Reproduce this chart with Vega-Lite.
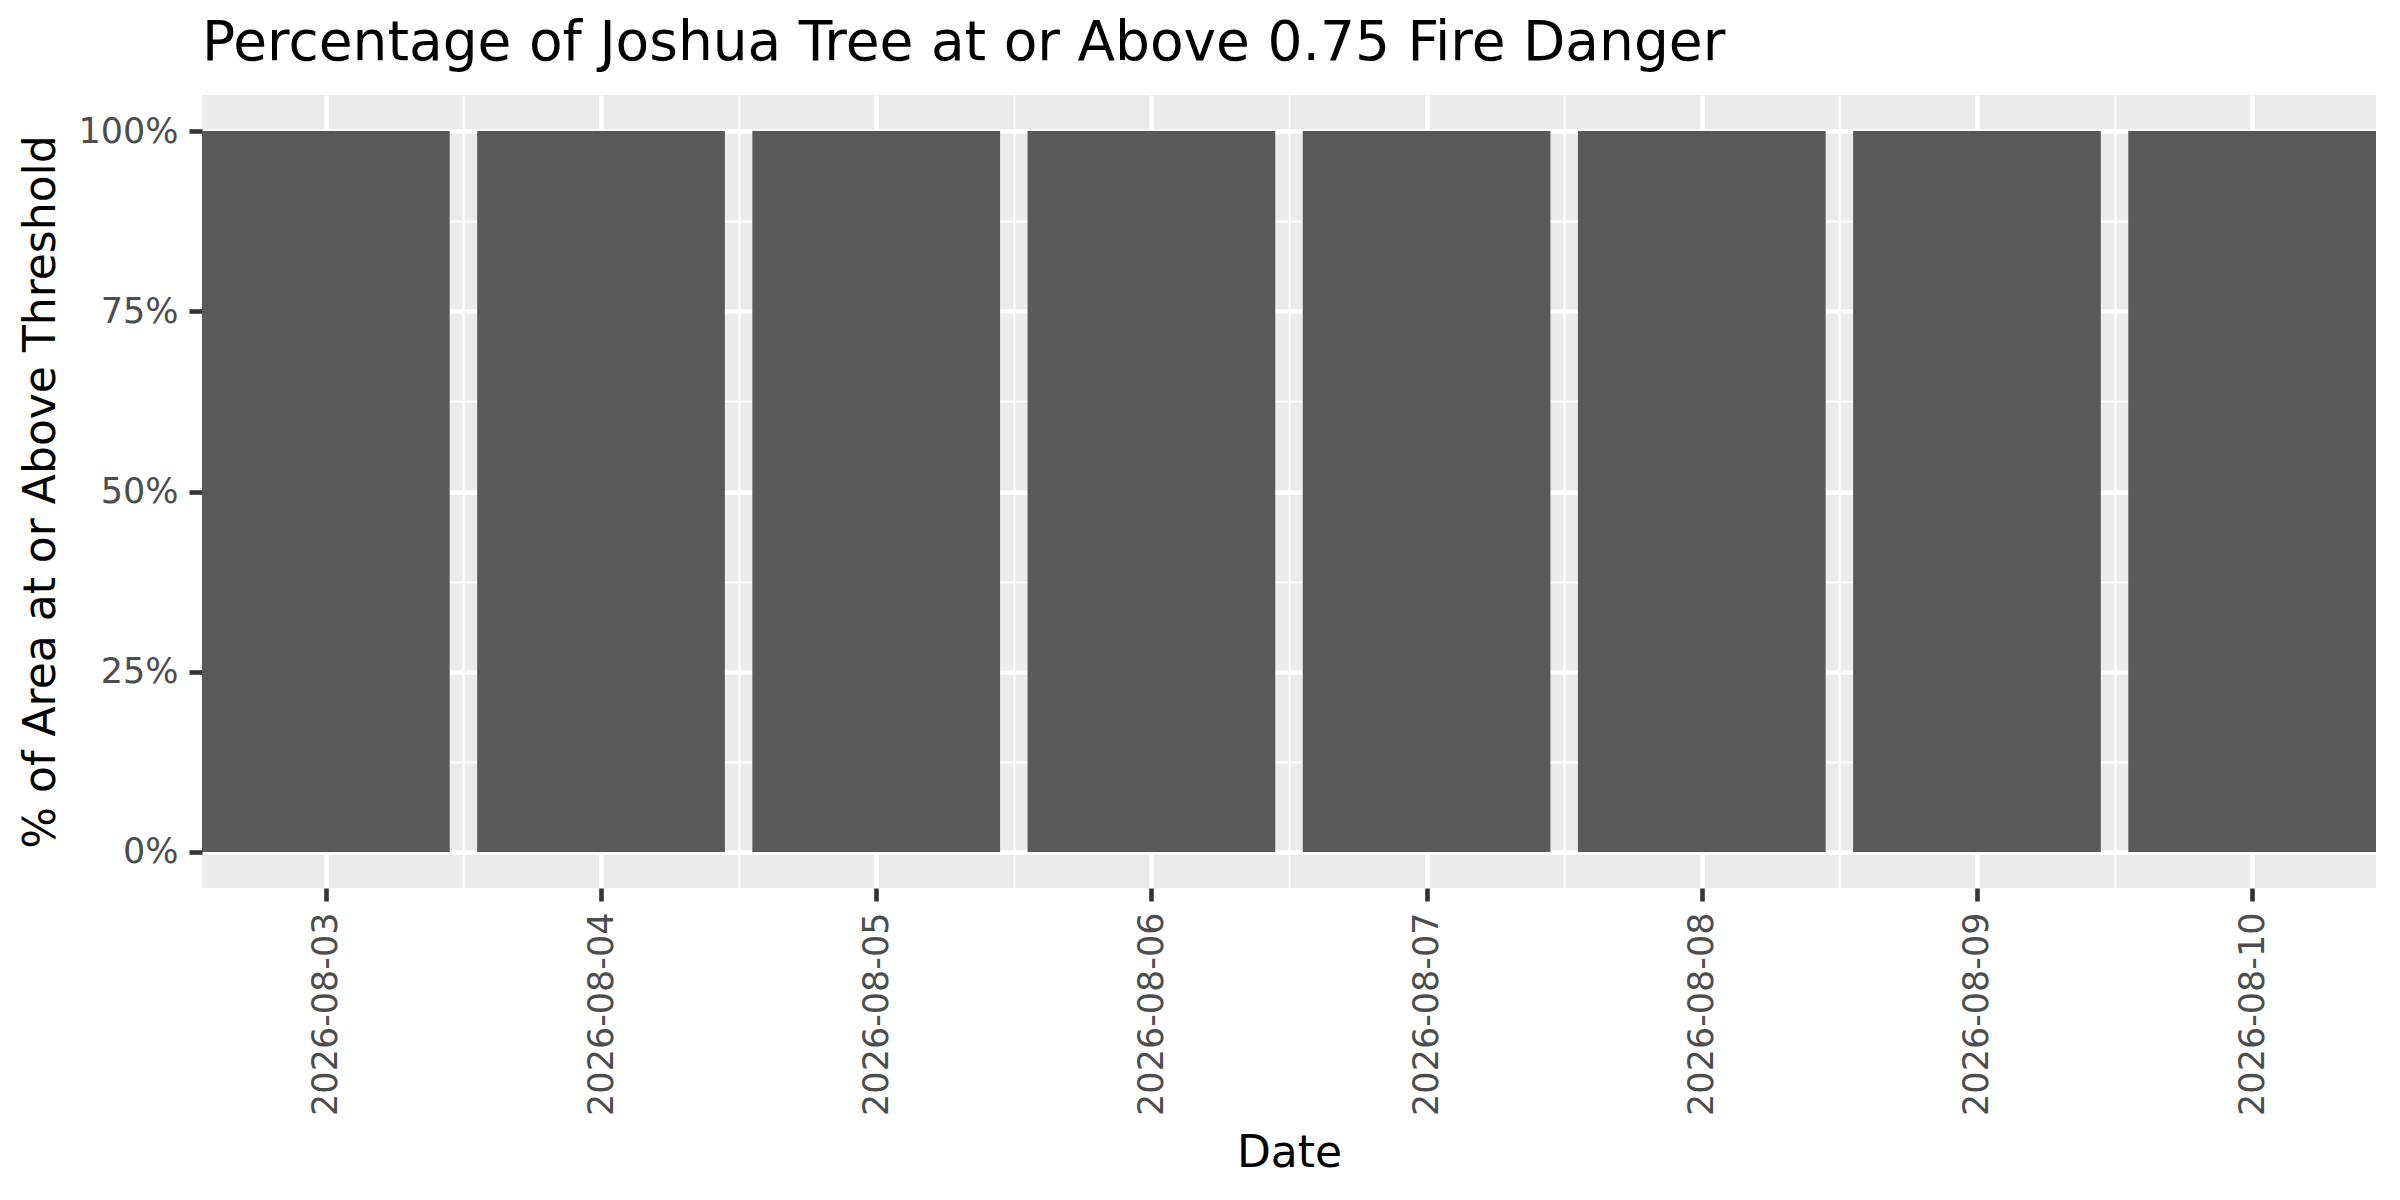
{
  "$schema": "https://vega.github.io/schema/vega-lite/v6.json",
  "width": 2174,
  "height": 793,
  "autosize": {"type": "none"},
  "padding": {"left": 202, "top": 95, "right": 24, "bottom": 312},
  "background": "white",
  "title": {
    "text": "Percentage of Joshua Tree at or Above 0.75 Fire Danger",
    "anchor": "start",
    "frame": "group",
    "baseline": "alphabetic",
    "offset": 31,
    "dy": 51,
    "fontSize": 55,
    "fontWeight": "normal",
    "font": "DejaVu Sans",
    "color": "#000000"
  },
  "data": {
    "values": [
      {"date": "2026-08-03", "share": 1.0},
      {"date": "2026-08-04", "share": 1.0},
      {"date": "2026-08-05", "share": 1.0},
      {"date": "2026-08-06", "share": 1.0},
      {"date": "2026-08-07", "share": 1.0},
      {"date": "2026-08-08", "share": 1.0},
      {"date": "2026-08-09", "share": 1.0},
      {"date": "2026-08-10", "share": 1.0}
    ]
  },
  "mark": {"type": "bar", "color": "#595959", "width": 247.7},
  "encoding": {
    "x": {
      "field": "date",
      "type": "temporal",
      "title": "Date",
      "scale": {
        "type": "utc",
        "padding": 0,
        "nice": false,
        "domain": [
          {"year": 2026, "month": 8, "date": 2, "hours": 13, "minutes": 12, "utc": true},
          {"year": 2026, "month": 8, "date": 10, "hours": 10, "minutes": 48, "utc": true}
        ]
      },
      "axis": {
        "values": [
          {"year": 2026, "month": 8, "date": 3, "utc": true},
          {"year": 2026, "month": 8, "date": 3, "hours": 12, "utc": true},
          {"year": 2026, "month": 8, "date": 4, "utc": true},
          {"year": 2026, "month": 8, "date": 4, "hours": 12, "utc": true},
          {"year": 2026, "month": 8, "date": 5, "utc": true},
          {"year": 2026, "month": 8, "date": 5, "hours": 12, "utc": true},
          {"year": 2026, "month": 8, "date": 6, "utc": true},
          {"year": 2026, "month": 8, "date": 6, "hours": 12, "utc": true},
          {"year": 2026, "month": 8, "date": 7, "utc": true},
          {"year": 2026, "month": 8, "date": 7, "hours": 12, "utc": true},
          {"year": 2026, "month": 8, "date": 8, "utc": true},
          {"year": 2026, "month": 8, "date": 8, "hours": 12, "utc": true},
          {"year": 2026, "month": 8, "date": 9, "utc": true},
          {"year": 2026, "month": 8, "date": 9, "hours": 12, "utc": true},
          {"year": 2026, "month": 8, "date": 10, "utc": true}
        ],
        "labelExpr": "utchours(datum.value) == 0 ? utcFormat(datum.value, '%Y-%m-%d') : ''",
        "labelAngle": -90,
        "labelPadding": 11,
        "labelLimit": 0,
        "labelFlush": false,
        "labelOverlap": false,
        "tickOpacity": {"condition": {"test": "utchours(datum.value) == 0", "value": 1}, "value": 0},
        "gridWidth": {"condition": {"test": "utchours(datum.value) == 0", "value": 4.4}, "value": 2.2},
        "titleBaseline": "alphabetic",
        "titlePadding": 78
      }
    },
    "y": {
      "field": "share",
      "type": "quantitative",
      "title": "% of Area at or Above Threshold",
      "scale": {"domain": [-0.05, 1.05], "nice": false, "zero": false, "padding": 0},
      "axis": {
        "values": [0, 0.125, 0.25, 0.375, 0.5, 0.625, 0.75, 0.875, 1],
        "labelExpr": "(datum.value * 8) % 2 == 0 ? format(datum.value, '.0%') : ''",
        "labelPadding": 11,
        "labelLimit": 0,
        "labelFlush": false,
        "labelOverlap": false,
        "tickOpacity": {"condition": {"test": "(datum.value * 8) % 2 == 0", "value": 1}, "value": 0},
        "gridWidth": {"condition": {"test": "(datum.value * 8) % 2 == 0", "value": 4.4}, "value": 2.2},
        "titleBaseline": "alphabetic",
        "titlePadding": 23
      }
    },
    "y2": {"datum": 0}
  },
  "config": {
    "view": {"fill": "#EBEBEB", "stroke": null},
    "axis": {
      "domain": false,
      "grid": true,
      "gridColor": "#FFFFFF",
      "tickColor": "#333333",
      "tickSize": 13,
      "tickWidth": 4.6,
      "labelFont": "DejaVu Sans",
      "labelFontSize": 35,
      "labelColor": "#4D4D4D",
      "titleFont": "DejaVu Sans",
      "titleFontSize": 44,
      "titleFontWeight": "normal",
      "titleColor": "#000000"
    }
  }
}
